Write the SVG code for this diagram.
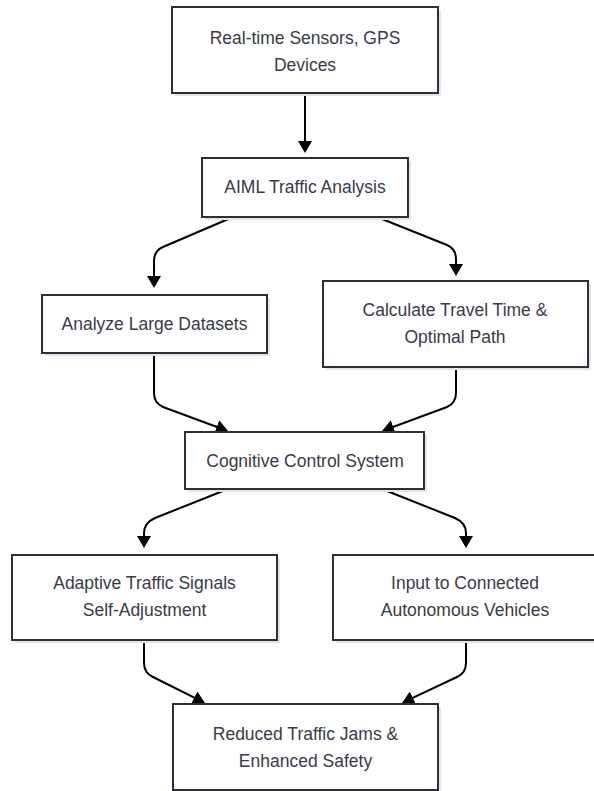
<svg xmlns="http://www.w3.org/2000/svg" width="594" height="791" viewBox="0 0 594 791">
<style>
.shadow{fill:#e4e4e8;}
.box{fill:#ffffff;stroke:#2e2e3a;stroke-width:2;}
.lbl{font-family:"Liberation Sans",Arial,sans-serif;font-size:17.5px;fill:#3a3a48;text-anchor:middle;}
.edge{fill:none;stroke:#000000;stroke-width:2;stroke-linejoin:round;}
</style>
<defs>
<marker id="arrow" viewBox="0 0 12 14" markerWidth="12" markerHeight="14" refX="9" refY="7" orient="auto" markerUnits="userSpaceOnUse">
<path d="M0,0 L12,7 L0,14 Z" fill="#000000"/>
</marker>
</defs>
<rect width="594" height="791" fill="#ffffff"/>
<g id="edges">
<path class="edge" d="M305,93 L305,150" marker-end="url(#arrow)"/>
<path class="edge" d="M233,217 L163,247 Q154,251 154,261 L154,285" marker-end="url(#arrow)"/>
<path class="edge" d="M377,217 L447,245 Q456,249 456,259 L456,273" marker-end="url(#arrow)"/>
<path class="edge" d="M154,353 L154,393 Q154,403 163,407 L225.2,430" marker-end="url(#arrow)"/>
<path class="edge" d="M456,367 L456,393 Q456,403 447,407 L384.8,430" marker-end="url(#arrow)"/>
<path class="edge" d="M228,489 L155,518 Q144,523 144,533 L144,545" marker-end="url(#arrow)"/>
<path class="edge" d="M382,489 L455,518 Q466,523 466,533 L466,545" marker-end="url(#arrow)"/>
<path class="edge" d="M144,640 L144,663 Q144,673 153,677 L202.3,701.7" marker-end="url(#arrow)"/>
<path class="edge" d="M466,640 L466,663 Q466,673 457,677 L404.7,701.7" marker-end="url(#arrow)"/>
</g>
<g id="n1">
<rect class="shadow" x="175" y="10" width="266" height="86"/>
<rect class="box" x="172" y="7" width="266" height="86"/>
<text class="lbl" x="305" y="44">Real-time Sensors, GPS</text>
<text class="lbl" x="305" y="71">Devices</text>
</g>
<g id="n2">
<rect class="shadow" x="205" y="161" width="206" height="59"/>
<rect class="box" x="202" y="158" width="206" height="59"/>
<text class="lbl" x="305" y="193">AIML Traffic Analysis</text>
</g>
<g id="n3">
<rect class="shadow" x="45" y="298" width="225" height="58"/>
<rect class="box" x="42" y="295" width="225" height="58"/>
<text class="lbl" x="154.5" y="330">Analyze Large Datasets</text>
</g>
<g id="n4">
<rect class="shadow" x="326" y="284" width="265" height="86"/>
<rect class="box" x="323" y="281" width="265" height="86"/>
<text class="lbl" x="455" y="316">Calculate Travel Time &amp;</text>
<text class="lbl" x="455" y="343">Optimal Path</text>
</g>
<g id="n5">
<rect class="shadow" x="188" y="435" width="239" height="57"/>
<rect class="box" x="185" y="432" width="239" height="57"/>
<text class="lbl" x="305" y="467">Cognitive Control System</text>
</g>
<g id="n6">
<rect class="shadow" x="15" y="558" width="265" height="85"/>
<rect class="box" x="12" y="555" width="265" height="85"/>
<text class="lbl" x="144.5" y="589">Adaptive Traffic Signals</text>
<text class="lbl" x="144.5" y="616">Self-Adjustment</text>
</g>
<g id="n7">
<rect class="shadow" x="336" y="558" width="265" height="85"/>
<rect class="box" x="333" y="555" width="265" height="85"/>
<text class="lbl" x="465" y="589">Input to Connected</text>
<text class="lbl" x="465" y="616">Autonomous Vehicles</text>
</g>
<g id="n8">
<rect class="shadow" x="176" y="707" width="265" height="86"/>
<rect class="box" x="173" y="704" width="265" height="86"/>
<text class="lbl" x="305.5" y="740">Reduced Traffic Jams &amp;</text>
<text class="lbl" x="305.5" y="767">Enhanced Safety</text>
</g>
</svg>
